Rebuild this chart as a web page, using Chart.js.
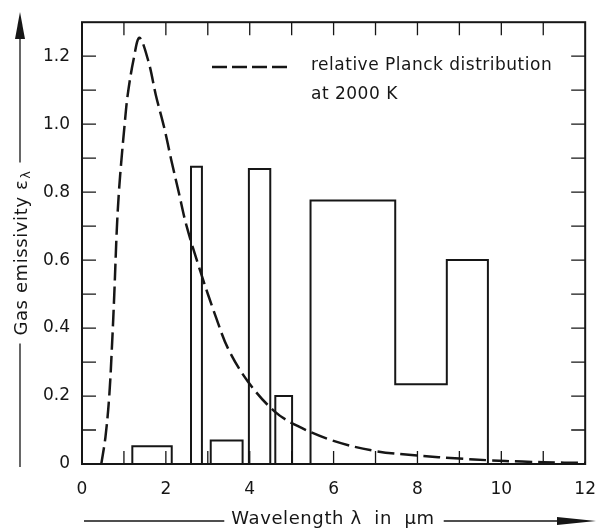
<!DOCTYPE html>
<html>
<head>
<meta charset="utf-8">
<script src="https://cdn.jsdelivr.net/npm/chart.js@4.4.1/dist/chart.umd.min.js"></script>
<style>
  html, body { margin: 0; padding: 0; background: #fff; }
  #wrap { width: 611px; height: 532px; }
</style>
</head>
<body>
<div id="wrap"><canvas id="emissivityChart" width="611" height="532"></canvas></div>
<script>
// absorption bands of the gas (wavelength range in um, emissivity)
const bandStart  = [1.2,   2.6,   3.07,  3.98,  4.61, 5.45,  7.47,  8.70];
const bandEnd    = [2.14,  2.86,  3.83,  4.49,  5.01, 7.47,  8.70,  9.68];
const bandHeight = [0.052, 0.875, 0.069, 0.868, 0.20, 0.775, 0.235, 0.60];

// relative Planck distribution at 2000 K
const planckX = [0.46, 0.56, 0.65, 0.72, 0.77, 0.83, 0.88, 0.94, 1.01, 1.09, 1.23, 1.37, 1.59, 1.76,
                 1.96, 2.13, 2.31, 2.49, 2.82, 3.20, 3.49, 3.96, 4.59, 5.14, 6.00, 7.00, 8.00, 9.00,
                 9.70, 10.5, 11.5, 12.0];
const planckY = [0.0, 0.08, 0.20, 0.36, 0.50, 0.69, 0.80, 0.894, 0.99, 1.086, 1.19, 1.254, 1.182, 1.086,
                 0.99, 0.894, 0.798, 0.702, 0.568, 0.43, 0.338, 0.242, 0.155, 0.112, 0.068, 0.038, 0.025, 0.016,
                 0.011, 0.007, 0.004, 0.003];

const xLabels = [0, 2, 4, 6, 8, 10, 12];
const yLabels = [0, 0.2, 0.4, 0.6, 0.8, 1.0, 1.2];

const ink = '#161616';
const font = 'DejaVu Sans';

// outline of the bands; adjacent bands share one edge
function bandOutline() {
    const pts = [];
    for (let i = 0; i < bandStart.length; i++) {
        const joined = i > 0 && bandStart[i] === bandEnd[i - 1];
        if (!joined) {
            if (i > 0) pts.push({ x: bandStart[i], y: null });
            pts.push({ x: bandStart[i], y: 0 });
        }
        pts.push({ x: bandStart[i], y: bandHeight[i] });
        pts.push({ x: bandEnd[i], y: bandHeight[i] });
        const next = i + 1 < bandStart.length && bandStart[i + 1] === bandEnd[i];
        if (!next) pts.push({ x: bandEnd[i], y: 0 });
    }
    return pts;
}

const frameAndNotes = {
    id: 'frameAndNotes',
    afterDatasetsDraw(chart) {
        const ctx = chart.ctx;
        const a = chart.chartArea;
        const xs = chart.scales.x, ys = chart.scales.y;
        ctx.save();
        ctx.strokeStyle = ink;
        ctx.fillStyle = ink;
        ctx.lineWidth = 2;
        ctx.strokeRect(a.left, a.top, a.right - a.left, a.bottom - a.top);

        // inward ticks
        ctx.lineWidth = 1.3;
        ctx.beginPath();
        for (let v = 1; v < 12; v++) {
            const px = xs.getPixelForValue(v);
            ctx.moveTo(px, a.bottom); ctx.lineTo(px, a.bottom - 13);
            ctx.moveTo(px, a.top); ctx.lineTo(px, a.top + 13);
        }
        for (let k = 1; k <= 12; k++) {
            const py = ys.getPixelForValue(k / 10);
            ctx.moveTo(a.left, py); ctx.lineTo(a.left + 14, py);
            ctx.moveTo(a.right, py); ctx.lineTo(a.right - 14, py);
        }
        ctx.stroke();

        // legend
        ctx.lineWidth = 2.5;
        ctx.setLineDash([15, 5]);
        ctx.beginPath();
        ctx.moveTo(212, 67); ctx.lineTo(291, 67);
        ctx.stroke();
        ctx.setLineDash([]);
        ctx.letterSpacing = '0.5px';
        ctx.font = '17px "' + font + '"';
        ctx.textBaseline = 'middle';
        ctx.textAlign = 'left';
        ctx.fillText('relative Planck distribution', 311, 66);
        ctx.fillText('at 2000 K', 311, 95);

        // x axis title with arrow
        ctx.letterSpacing = '0.6px';
        ctx.font = '18px "' + font + '"';
        const xt = 'Wavelength \u03bb  in  \u03bcm';
        const tw = ctx.measureText(xt).width;
        const tx = 333 - tw / 2, ty = 519;
        ctx.fillText(xt, tx, ty);
        ctx.lineWidth = 1.3;
        ctx.beginPath();
        ctx.moveTo(84, ty + 2); ctx.lineTo(tx - 7, ty + 2);
        ctx.moveTo(tx + tw + 9, ty + 2); ctx.lineTo(560, ty + 2);
        ctx.stroke();
        ctx.beginPath();
        ctx.moveTo(557, ty - 2); ctx.lineTo(596, ty + 2); ctx.lineTo(557, ty + 6);
        ctx.closePath(); ctx.fill();

        // y axis title with arrow
        ctx.translate(22, 253);
        ctx.rotate(-Math.PI / 2);
        const yt = 'Gas emissivity \u03b5';
        ctx.font = '18px "' + font + '"';
        const w1 = ctx.measureText(yt).width;
        ctx.font = '13px "' + font + '"';
        const w2 = ctx.measureText('\u03bb').width;
        const total = w1 + w2 + 1;
        const sx = -total / 2;
        ctx.font = '18px "' + font + '"';
        ctx.fillText(yt, sx, 0);
        ctx.font = '13px "' + font + '"';
        ctx.fillText('\u03bb', sx + w1 + 1, 5);
        ctx.lineWidth = 1.3;
        ctx.beginPath();
        ctx.moveTo(sx - 8, -2); ctx.lineTo(-214, -2);
        ctx.moveTo(sx + total + 8, -2); ctx.lineTo(215, -2);
        ctx.stroke();
        ctx.beginPath();
        ctx.moveTo(214, -7); ctx.lineTo(241, -2); ctx.lineTo(214, 3);
        ctx.closePath(); ctx.fill();
        ctx.restore();
    }
};

new Chart(document.getElementById('emissivityChart'), {
    type: 'scatter',
    data: {
        datasets: [{
            label: 'Gas emissivity',
            data: bandOutline(),
            showLine: true,
            spanGaps: false,
            borderColor: ink,
            borderWidth: 2,
            pointRadius: 0,
            tension: 0
        }, {
            label: 'relative Planck distribution at 2000 K',
            data: planckX.map((x, i) => ({ x: x, y: planckY[i] })),
            showLine: true,
            borderColor: ink,
            borderWidth: 2.5,
            borderDash: [17, 6],
            pointRadius: 0,
            tension: 0.35
        }]
    },
    options: {
        responsive: false,
        animation: false,
        events: [],
        layout: { padding: { top: 11, right: 22, bottom: 0, left: 0 } },
        plugins: {
            legend: { display: false },
            tooltip: { enabled: false }
        },
        scales: {
            x: {
                type: 'linear',
                min: 0,
                max: 12,
                grid: { display: false, drawTicks: false },
                border: { display: false },
                afterBuildTicks: s => { s.ticks = xLabels.map(v => ({ value: v })); },
                afterFit: s => { s.height = 68; },
                ticks: {
                    color: ink,
                    padding: 15,
                    maxRotation: 0,
                    font: { family: font, size: 17 }
                }
            },
            y: {
                type: 'linear',
                min: 0,
                max: 1.3,
                grid: { display: false, drawTicks: false },
                border: { display: false },
                afterBuildTicks: s => { s.ticks = yLabels.map(v => ({ value: v })); },
                afterFit: s => { s.width = 82; },
                ticks: {
                    color: ink,
                    padding: 12,
                    font: { family: font, size: 17 },
                    callback: v => v === 0 ? '0' : v.toFixed(1)
                }
            }
        }
    },
    plugins: [frameAndNotes]
});
</script>
</body>
</html>
